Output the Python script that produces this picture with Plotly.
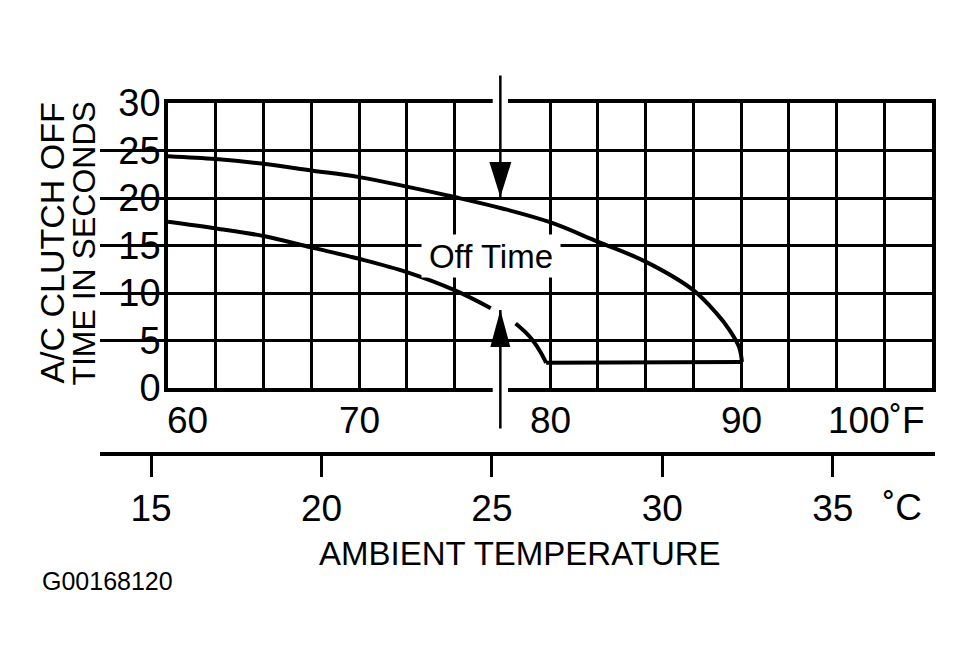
import plotly.graph_objects as go

# upper boundary of the off-time band (deg F -> seconds)
upper_f = [60, 62.5, 65, 67.5, 70, 72.5, 75, 77.5, 80, 82.5, 85, 87.5, 88.7, 89.4, 89.9, 90.05]
upper_s = [24.4, 24.1, 23.6, 22.9, 22.2, 21.2, 20.1, 18.9, 17.45, 15.4, 13.3, 10.3, 7.9, 6.1, 4.3, 2.75]

# lower boundary, broken where the arrow passes
lower_f = [60, 62.5, 65, 67.5, 70, 72.5, 75, 76.9, None, 78.2, 78.7, 79.1, 79.5, 79.8]
lower_s = [17.5, 16.8, 16.0, 14.8, 13.6, 12.2, 10.3, 8.4, None, 6.8, 5.9, 5.0, 3.8, 2.65]

# flat floor between 80 and 90 F
flat_f = [79.8, 90.05]
flat_s = [2.65, 2.75]

f_ticks = [60, 70, 80, 90, 100]
f_labels = ["60", "70", "80", "90", "100˚F"]
c_ticks = [15, 20, 25, 30, 35]
c_range = [13.5, 38.0]

arrow_x = 77.4
arrow_top_tip = 20.1
arrow_bottom_tip = 8.2

FONT = "Liberation Sans, Arial, sans-serif"
W, H = 971, 664
BODY = 8  # default page margin around the plot div
# pixel frame (page coords) of the grid and of the celsius scale
PL, PR, PT, PB = 168, 932, 103, 388
CL, CR, CY = 100, 935, 454

paper_w = CR - CL
paper_h = CY - PT
ydom0 = (CY - PB) / paper_h
xdom = [(PL - CL) / paper_w, (PR - CL) / paper_w]

fw, fh = W - 2 * BODY, H - 2 * BODY
curve = dict(color="black", width=4, shape="spline", smoothing=1.0)

fig = go.Figure()
fig.add_trace(go.Scatter(x=upper_f, y=upper_s, mode="lines", line=curve))
fig.add_trace(go.Scatter(x=lower_f, y=lower_s, mode="lines", line=curve))
fig.add_trace(go.Scatter(x=flat_f, y=flat_s, mode="lines", line=dict(color="black", width=4)))
# dummy trace so the celsius axis gets drawn
fig.add_trace(go.Scatter(x=[None], y=[None], xaxis="x2", yaxis="y", hoverinfo="skip"))

fig.update_layout(
    width=fw, height=fh,
    margin=dict(l=CL - BODY, r=fw - (CR - BODY), t=PT - BODY, b=fh - (CY - BODY)),
    paper_bgcolor="white", plot_bgcolor="rgba(0,0,0,0)",
    showlegend=False,
    font=dict(family=FONT, color="black"),
    xaxis=dict(range=[60, 100], domain=xdom, tick0=60, dtick=2.5,
               showgrid=True, gridcolor="black", gridwidth=2.5,
               showticklabels=False, ticks="", zeroline=False,
               showline=True, mirror=True, linecolor="black", linewidth=3.5),
    yaxis=dict(range=[0, 30], domain=[ydom0, 1], tick0=0, dtick=5,
               showgrid=True, gridcolor="black", gridwidth=2.5,
               tickfont=dict(size=38, family=FONT), ticks="", zeroline=False,
               ticklabelstandoff=-4,
               showline=True, mirror=True, linecolor="black", linewidth=3.5),
    xaxis2=dict(range=c_range, domain=[0, 1], anchor="free", position=0,
                tickvals=c_ticks, ticktext=[str(c) for c in c_ticks],
                ticks="outside", ticklen=21, tickwidth=2.5, tickcolor="black",
                tickfont=dict(size=37, family=FONT),
                showgrid=False, zeroline=False,
                showline=True, linecolor="black", linewidth=3.5),
)

# degree F labels under the grid
for v, t in zip(f_ticks, f_labels):
    anchor = "left" if v == f_ticks[0] else ("right" if v == f_ticks[-1] else "center")
    shift = -3 if v == f_ticks[0] else (-5 if v == f_ticks[-1] else 0)
    fig.add_annotation(x=v, y=ydom0, xref="x", yref="paper", text=t, showarrow=False,
                       xanchor=anchor, yanchor="middle", xshift=shift, yshift=-32,
                       font=dict(size=37))

fig.add_annotation(x=37.05, y=0, xref="x2", yref="paper", text="˚C", showarrow=False,
                   xanchor="center", yanchor="middle", yshift=-53, font=dict(size=37))
fig.add_annotation(x=(520 - CL) / paper_w, y=0, xref="paper", yref="paper",
                   text="AMBIENT TEMPERATURE", showarrow=False,
                   xanchor="center", yanchor="middle", yshift=-99, font=dict(size=33))
fig.add_annotation(x=(40 - CL) / paper_w, y=0, xref="paper", yref="paper",
                   text="G00168120", showarrow=False,
                   xanchor="left", yanchor="middle", yshift=-127, font=dict(size=25))

# y title, two rotated lines
fig.add_annotation(x=(52 - CL) / paper_w, y=15.2, xref="paper", yref="y",
                   text="A/C CLUTCH OFF", textangle=-90, showarrow=False,
                   xanchor="center", yanchor="middle", font=dict(size=34))
fig.add_annotation(x=(84 - CL) / paper_w, y=15.2, xref="paper", yref="y",
                   text="TIME IN SECONDS", textangle=-90, showarrow=False,
                   xanchor="center", yanchor="middle", font=dict(size=32))

fig.add_annotation(x=76.9, y=13.9, xref="x", yref="y", text="Off Time", showarrow=False,
                   bgcolor="white", width=138, height=42, borderpad=0,
                   font=dict(size=33))

# white gaps in the grid around the arrows
white = dict(type="rect", fillcolor="white", line=dict(width=0))
fig.add_shape(**white, layer="between", xref="x", yref="y", x0=77.2, x1=77.8, y0=0, y1=30)
fig.add_shape(**white, layer="between", xref="x", yref="y", x0=77.0, x1=77.8, y0=20.5, y1=30)
fig.add_shape(**white, layer="between", xref="x", yref="y", x0=76.4, x1=78.5, y0=3.5, y1=11)
fig.add_shape(**white, layer="above", xref="x", yref="paper", x0=77.0, x1=77.8, y0=0.985, y1=1.02)
fig.add_shape(**white, layer="above", xref="x", yref="paper", x0=77.0, x1=77.8,
              y0=ydom0 - 0.015, y1=ydom0 + 0.015)

# arrow shafts
fig.add_annotation(x=arrow_x, y=arrow_top_tip, xref="x", yref="y", text="", showarrow=True,
                   ax=0, ay=-123, arrowhead=0, arrowwidth=2.5, arrowcolor="black", standoff=0)
fig.add_annotation(x=arrow_x, y=arrow_bottom_tip, xref="x", yref="y", text="", showarrow=True,
                   ax=0, ay=120, arrowhead=0, arrowwidth=2.5, arrowcolor="black", standoff=0)
# arrow heads
fig.add_shape(type="path", xref="x", yref="y", xsizemode="pixel", ysizemode="pixel",
              xanchor=arrow_x, yanchor=arrow_top_tip, path="M0,0 L-11,35 L11,35 Z",
              fillcolor="black", line=dict(width=0), layer="above")
fig.add_shape(type="path", xref="x", yref="y", xsizemode="pixel", ysizemode="pixel",
              xanchor=arrow_x, yanchor=arrow_bottom_tip, path="M0,0 L-10,-37 L10,-37 Z",
              fillcolor="black", line=dict(width=0), layer="above")

fig.write_html("out.html")
